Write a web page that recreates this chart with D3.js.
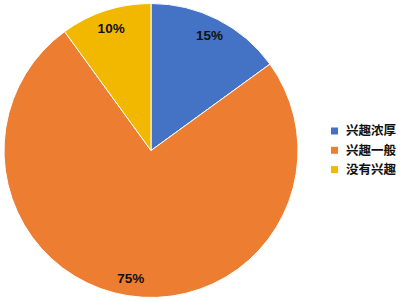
<!DOCTYPE html>
<html>
<head>
<meta charset="utf-8">
<script src="https://cdn.jsdelivr.net/npm/d3@7"></script>
<style>
  body { margin: 0; background: #fff; }
  svg { display: block; }
  text { font-family: "Liberation Sans", Arial, "Noto Sans CJK SC", sans-serif; }
</style>
</head>
<body>
<div id="chart"></div>
<script>
var categories = ["兴趣浓厚", "兴趣一般", "没有兴趣"];
var values = [15, 75, 10];
var labels = ["15%", "75%", "10%"];
var colors = ["#4472C4", "#ED7D31", "#F2B800"];

var width = 401, height = 301;
var cx = 151, cy = 150.5, radius = 147;

var svg = d3.select("#chart").append("svg")
	.attr("width", width)
	.attr("height", height);

var pie = d3.pie().sort(null).value(function (d) { return d; });
var arcs = pie(values);

var arc = d3.arc().innerRadius(0).outerRadius(radius);
var labelArc = d3.arc().innerRadius(129).outerRadius(129);

var g = svg.append("g").attr("transform", "translate(" + cx + "," + cy + ")");

g.selectAll("path.slice")
	.data(arcs)
	.enter().append("path")
	.attr("class", "slice")
	.attr("d", arc)
	.attr("fill", function (d, i) { return colors[i]; })
	.attr("stroke", "#fff")
	.attr("stroke-width", 1);

g.selectAll("text.lbl")
	.data(arcs)
	.enter().append("text")
	.attr("class", "lbl")
	.attr("transform", function (d) { return "translate(" + labelArc.centroid(d) + ")"; })
	.attr("text-anchor", "middle")
	.attr("dy", "0.35em")
	.attr("font-size", 13.5)
	.attr("font-weight", "bold")
	.attr("fill", "#111")
	.text(function (d, i) { return labels[i]; });

// legend
var legend = svg.append("g").attr("transform", "translate(331,131)");

var item = legend.selectAll("g.item")
	.data(categories)
	.enter().append("g")
	.attr("class", "item")
	.attr("transform", function (d, i) { return "translate(0," + (i * 19.3) + ")"; });

item.append("rect")
	.attr("x", 0).attr("y", -3.5)
	.attr("width", 7).attr("height", 7)
	.attr("fill", function (d, i) { return colors[i]; });

item.append("text")
	.attr("x", 15)
	.attr("dy", "0.35em")
	.attr("font-size", 12.5)
	.attr("font-weight", "bold")
	.attr("fill", "#111")
	.style("font-family", "'Noto Sans CJK SC', sans-serif")
	.text(function (d) { return d; });
</script>
</body>
</html>
